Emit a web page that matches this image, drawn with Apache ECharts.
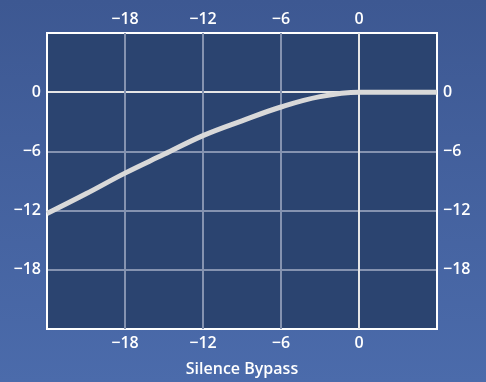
<!DOCTYPE html>
<html>
<head>
<meta charset="utf-8">
<script src="https://cdn.jsdelivr.net/npm/echarts@6/dist/echarts.min.js"></script>
<style>
html,body{margin:0;padding:0;}
#c{width:486px;height:382px;}
</style>
</head>
<body>
<div id="c"></div>
<script>
var inputDb  = [-24, -21, -18, -15, -12, -9, -6, -3, 0, 3, 6];
var outputDb = [-12.3, -10.3, -8.2, -6.3, -4.4, -2.9, -1.5, -0.45, 0, 0, 0];
var tickValues = [-18, -12, -6, 0];
var axisName = 'Silence Bypass';

var fontFam = 'Open Sans';
function fmt(v){
  if (tickValues.indexOf(v) < 0) return '';
  return v < 0 ? '\u2212' + Math.abs(v) : String(v);
}
var splitColors = ['#ffffff','#8593b0','#8593b0','#8593b0','#e6e6e6','#ffffff'];
function axisCommon(extra){
  var o = {
    type: 'value', min: -24, max: 6, interval: 6,
    axisLine: {show: false}, axisTick: {show: false},
    axisLabel: {color: '#ffffff', fontSize: 16, fontWeight: 600, fontFamily: fontFam, formatter: fmt, margin: 6},
    splitLine: {show: true, lineStyle: {color: splitColors, width: 2}}
  };
  for (var k in extra) o[k] = extra[k];
  return o;
}
var data = inputDb.map(function(x, i){ return [x, outputDb[i]]; });
var chart = echarts.init(document.getElementById('c'));
chart.setOption({
  backgroundColor: {type: 'linear', x: 0, y: 0, x2: 0, y2: 1,
    colorStops: [{offset: 0, color: '#3d5892'}, {offset: 1, color: '#4b6bab'}]},
  animation: false,
  grid: {left: 47, top: 33, width: 390, height: 301, show: true,
    backgroundColor: '#2b4470', borderColor: '#ffffff', borderWidth: 2},
  xAxis: [
    axisCommon({position: 'bottom', name: axisName, nameLocation: 'middle', nameGap: 32,
      nameTextStyle: {color: '#ffffff', fontSize: 16, fontWeight: 600, fontFamily: fontFam}}),
    axisCommon({position: 'top'})
  ],
  yAxis: [
    axisCommon({position: 'left'}),
    axisCommon({position: 'right'})
  ],
  series: [{
    type: 'line', xAxisIndex: 0, yAxisIndex: 0, data: data, smooth: 0.4,
    showSymbol: false, lineStyle: {color: '#d9d9d9', width: 5}
  }]
});
</script>
</body>
</html>
